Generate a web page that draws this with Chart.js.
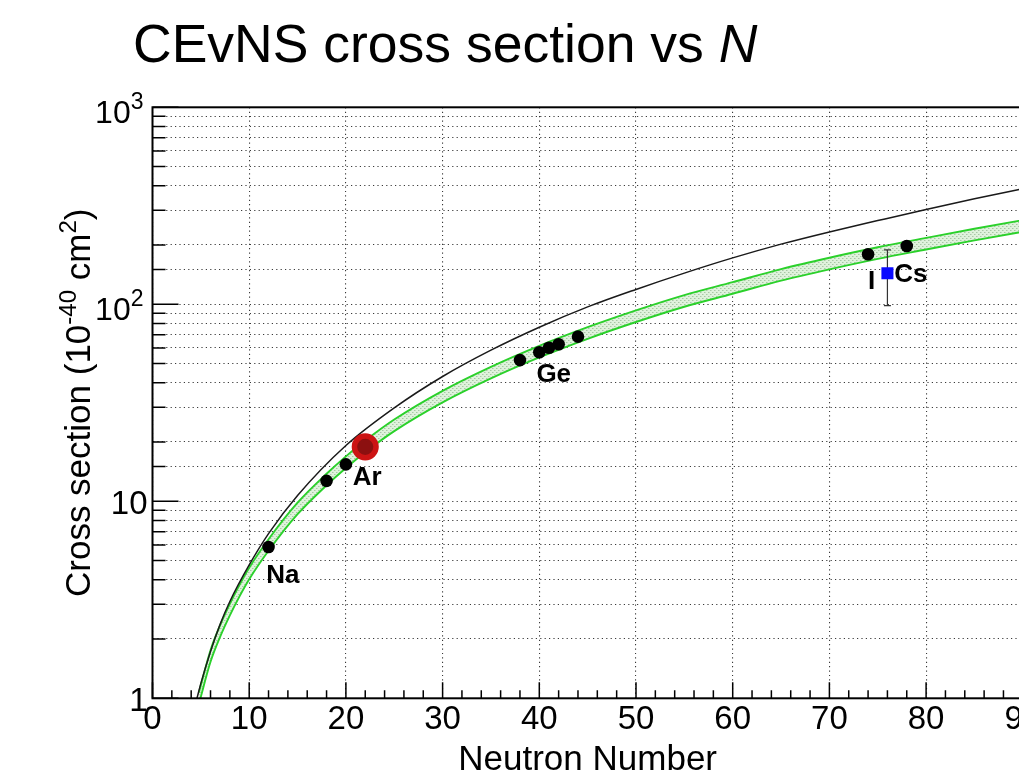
<!DOCTYPE html>
<html><head><meta charset="utf-8">
<script src="https://cdn.jsdelivr.net/npm/chart.js@4.4.1/dist/chart.umd.min.js"></script>
<style>
html,body{margin:0;padding:0;overflow:hidden;background:#fff;width:1019px;height:782px}
#wrap{position:absolute;left:0;top:0;width:1060px;height:782px}
</style>
</head><body><div id="wrap"><canvas id="c" width="1060" height="782"></canvas></div>
<script>
// ---- data ----
const curveN   = [4.6,5,6,7,8,10,12,15,20,25,30,35,40,45,50,55,60,65,70,75,80,85,90,95];
const noFFxs   = [1.0,1.19,1.73,2.38,3.1,4.75,6.85,10.7,19.2,29.8,43,58.5,76.5,97,119,144,172,202,233,266,303,343,386,430];

const bandN    = [4.8,5,6,7,8,9,10,12,15,18,20,22,25,30,35,40,45,50,55,60,65,70,75,80,85,90,95];
const bandHigh = [1.07,1.166,1.755,2.354,3.017,3.766,4.601,6.42,9.844,13.80,16.91,20.33,26.0,36.38,48.15,61.53,76.5,93.09,111.3,129.5,150.9,172.3,194.7,217.2,241.8,267.5,293.2];
const bandLow  = [0.935,1.019,1.533,2.056,2.636,3.290,4.019,5.607,8.598,12.06,14.77,17.76,22.71,31.78,42.06,53.74,66.82,81.31,97.20,113.1,131.8,150.5,170.1,189.7,211.2,233.6,256.1];

const isoN     = [12,18,20,38,40,41,42,44,74,78];
const isoXS    = [5.86,12.7,15.4,52.1,57.1,60.2,62.7,68.5,179.4,197.7];

const arN      = [22];
const arXS     = [18.9];

const csiN     = [76];
const csiXS    = [143.7];
const csiLow   = [98.4];
const csiHigh  = [188.8];

const labelText = ['Na','Ar','Ge','I','Cs'];
const labelN    = [11.77,20.7,39.7,74.0,76.7];
const labelXS   = [3.83,12.1,40.5,119.2,129.8];

const xTickValues = [0,10,20,30,40,50,60,70,80,90];
const xTickLabels = ['0','10','20','30','40','50','60','70','80','90'];
const yTickValues = [1,10,100,1000];
const yTickBase   = ['1','10','10','10'];
const yTickExp    = ['','','2','3'];

const FONT = '"Liberation Sans", Arial, Helvetica, sans-serif';

function pts(xs, ys){ return xs.map((x,i)=>({x:x, y:ys[i]})); }

const hatch = (()=>{
  const c=document.createElement('canvas'); c.width=4; c.height=4;
  const g=c.getContext('2d');
  g.fillStyle='#dff2dc'; g.fillRect(0,0,4,4);
  g.fillStyle='#a9c6a6'; g.fillRect(0,0,1,1); g.fillRect(2,2,1,1);
  g.fillStyle='#c4dcc1'; g.fillRect(1,0,1,1); g.fillRect(3,2,1,1);
  return g.createPattern(c,'repeat');
})();

const decor = {
  id:'decor',
  beforeDatasetDraw(chart, args){
    if(args.index !== 2) return;
    const {ctx, scales:{x,y}} = chart;
    ctx.save();
    ctx.strokeStyle='#333'; ctx.lineWidth=1.2;
    csiN.forEach((n,i)=>{
      const px=x.getPixelForValue(n), y1=y.getPixelForValue(csiLow[i]), y2=y.getPixelForValue(csiHigh[i]);
      ctx.beginPath();
      ctx.moveTo(px,y1); ctx.lineTo(px,y2);
      ctx.moveTo(px-3.5,y1); ctx.lineTo(px+3.5,y1);
      ctx.moveTo(px-3.5,y2); ctx.lineTo(px+3.5,y2);
      ctx.stroke();
    });
    ctx.restore();
  },
  afterDraw(chart){
    const {ctx, chartArea:a, scales:{x,y}} = chart;
    ctx.save();
    // frame
    ctx.strokeStyle='#000'; ctx.lineWidth=2;
    ctx.strokeRect(a.left, a.top, a.right-a.left, a.bottom-a.top);
    // inward ticks
    ctx.lineWidth=1.5;
    ctx.beginPath();
    y.ticks.forEach(t=>{
      const v=t.value; const py=y.getPixelForValue(v);
      const major = Math.abs(Math.log10(v)-Math.round(Math.log10(v)))<1e-6;
      ctx.moveTo(a.left,py); ctx.lineTo(a.left+(major?26:13),py);
    });
    for(let n=0;n<=90;n+=2){
      const px=x.getPixelForValue(n);
      ctx.moveTo(px,a.bottom); ctx.lineTo(px,a.bottom-(n%10===0?16:8));
    }
    ctx.stroke();
    // x tick labels
    ctx.fillStyle='#000';
    ctx.font='33px '+FONT; ctx.textAlign='center'; ctx.textBaseline='alphabetic';
    xTickValues.forEach((v,i)=>{ ctx.fillText(xTickLabels[i], x.getPixelForValue(v), a.bottom+31); });
    // y tick labels
    yTickValues.forEach((v,i)=>{
      const py=y.getPixelForValue(v);
      if(!yTickExp[i]){
        ctx.font='33px '+FONT; ctx.textAlign='right';
        ctx.fillText(yTickBase[i], a.left-5, py+12.5);
      } else {
        ctx.font='23px '+FONT; ctx.textAlign='right';
        const ew=ctx.measureText(yTickExp[i]).width;
        ctx.fillText(yTickExp[i], a.left-9, py+2);
        ctx.font='32px '+FONT;
        ctx.fillText(yTickBase[i], a.left-9-ew, py+15.5);
      }
    });
    // element labels
    ctx.font='bold 26px '+FONT; ctx.textAlign='left';
    labelText.forEach((s,i)=>{ ctx.fillText(s, x.getPixelForValue(labelN[i]), y.getPixelForValue(labelXS[i])); });
    // x axis title
    ctx.font='35px '+FONT; ctx.textAlign='center';
    ctx.fillText('Neutron Number', (a.left+a.right)/2, 770);
    // y axis title (rotated, with superscripts)
    const segs=[['Cross section (10',35,0],['-40',24,14],[' cm',35,0],['2',24,14],[')',35,0]];
    let tot=0; segs.forEach(s=>{ ctx.font=s[1]+'px '+FONT; s.push(ctx.measureText(s[0]).width); tot+=s[3]; });
    ctx.translate(90,(a.top+a.bottom)/2); ctx.rotate(-Math.PI/2);
    ctx.textAlign='left';
    let cx=-tot/2;
    segs.forEach(s=>{ ctx.font=s[1]+'px '+FONT; ctx.fillText(s[0], cx, -s[2]); cx+=s[3]; });
    ctx.setTransform(1,0,0,1,0,0);
    // title
    ctx.textAlign='left';
    ctx.font='53.5px '+FONT;
    const t1='CEvNS cross section vs ';
    ctx.fillText(t1, 133, 62);
    const w1=ctx.measureText(t1).width;
    ctx.font='italic 53.5px '+FONT;
    ctx.fillText('N', 133+w1, 62);
    ctx.restore();
  }
};

new Chart(document.getElementById('c'), {
  type:'line',
  data:{ datasets:[
    { data:pts(arN,arXS), showLine:false, pointRadius:10.8, pointBorderWidth:5.5,
      pointBackgroundColor:'#8c1010', pointBorderColor:'#cc1414' },
    { data:pts(isoN,isoXS), showLine:false, pointRadius:6.3, pointBorderWidth:0,
      pointBackgroundColor:'#000', pointBorderColor:'#000' },
    { data:pts(csiN,csiXS), showLine:false, pointStyle:'rect', pointRadius:8.5, pointBorderWidth:0,
      pointBackgroundColor:'#0a0aff', pointBorderColor:'#0a0aff' },
    { data:pts(curveN,noFFxs), borderColor:'#1a1a1a', borderWidth:1.5, pointRadius:0,
      cubicInterpolationMode:'monotone', fill:false },
    { data:pts(bandN,bandHigh), borderColor:'#2bd12b', borderWidth:1.9, pointRadius:0,
      cubicInterpolationMode:'monotone', fill:'+1', backgroundColor:hatch },
    { data:pts(bandN,bandLow), borderColor:'#2bd12b', borderWidth:1.9, pointRadius:0,
      cubicInterpolationMode:'monotone', fill:false }
  ]},
  options:{
    responsive:false, animation:false, devicePixelRatio:1,
    layout:{ padding:{ left:152.5, top:107.3, right:37.2, bottom:83.7 } },
    plugins:{ legend:{display:false}, tooltip:{enabled:false}, title:{display:false},
              filler:{ drawTime:'beforeDatasetsDraw' } },
    scales:{
      x:{ type:'linear', min:0, max:90,
          ticks:{ display:false, stepSize:10, autoSkip:false },
          grid:{ color:'#3a3a3a', lineWidth:1.1, drawTicks:false },
          border:{ display:false, dash:[1.2,3.2] } },
      y:{ type:'logarithmic', min:1, max:1000,
          ticks:{ display:false, autoSkip:false },
          grid:{ color:'#3a3a3a', lineWidth:1.1, drawTicks:false },
          border:{ display:false, dash:[1.2,3.2] } }
    }
  },
  plugins:[decor]
});
</script>
</body></html>
